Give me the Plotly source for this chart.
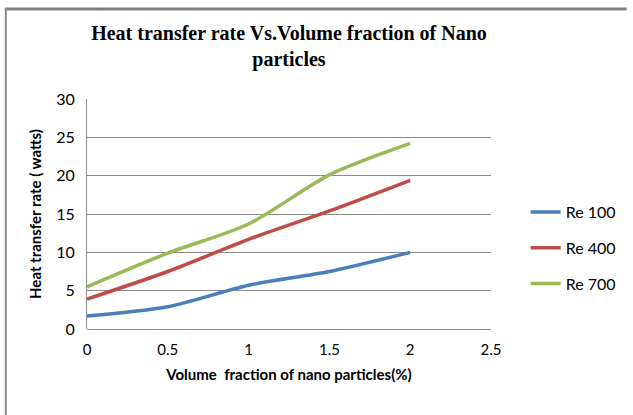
import plotly.graph_objects as go

x_vals = [0, 0.5, 1, 1.5, 2]
re100 = [1.7, 2.9, 5.7, 7.5, 10.0]
re400 = [3.9, 7.5, 11.7, 15.4, 19.4]
re700 = [5.5, 9.9, 13.7, 20.1, 24.2]
names = ["Re 100", "Re 400", "Re 700"]
colors = ["#4A7EBB", "#BE4B48", "#98B954"]

fig = go.Figure()
for i, (nm, ys) in enumerate(zip(names, [re100, re400, re700])):
    fig.add_trace(go.Scatter(x=x_vals, y=ys, mode="lines", name=nm,
                             line=dict(color=colors[i], width=3.5, shape="spline", smoothing=0.8),
                             legendgroup=nm))

L, R, T, B = 87, 138, 99, 86
W, H = 633, 415
pw, ph = W - L - R, H - T - B

def px(x):
    return (x - L) / pw

def py(y):
    return (H - B - y) / ph

fig.update_layout(
    width=W, height=H,
    margin=dict(l=L, r=R, t=T, b=B),
    paper_bgcolor="white", plot_bgcolor="white",
    title=dict(text="<b>Heat transfer rate Vs.Volume fraction of Nano<br>particles</b>",
               font=dict(family="Liberation Serif", size=20, color="black"),
               x=0.5, xanchor="center", xref="paper", y=1 - 40 / H, yanchor="top"),
    xaxis=dict(range=[0, 2.5], tickvals=[0, 0.5, 1, 1.5, 2, 2.5],
               ticktext=["0", "0.5", "1", "1.5", "2", "2.5"],
               showgrid=False, zeroline=False, showline=False, ticks="",
               tickfont=dict(family="Lato", size=15, color="black"), ticklabelstandoff=10,
               title=dict(text="<b>Volume  fraction of nano particles(%)</b>",
                          font=dict(family="Lato", size=15, color="black"), standoff=12)),
    yaxis=dict(range=[0, 30], tickvals=[0, 5, 10, 15, 20, 25, 30],
               showgrid=True, gridcolor="#8c8c8c", gridwidth=1,
               zeroline=True, zerolinecolor="#8c8c8c", zerolinewidth=1,
               showline=True, linecolor="#8c8c8c", linewidth=1, ticks="",
               tickfont=dict(family="Lato", size=16, color="black"), ticklabelstandoff=8,
               title=dict(text="<b>Heat transfer rate ( watts)</b>",
                          font=dict(family="Lato", size=15, color="black"), standoff=10)),
    legend=dict(x=px(530), y=py(248), xanchor="left", yanchor="middle",
                font=dict(family="Lato", size=16, color="black"),
                tracegroupgap=12, bgcolor="rgba(0,0,0,0)"),
    showlegend=True,
)

for a, b in [(4, 200), (200, 400), (400, 632)]:
    fig.add_shape(type="line", xref="paper", yref="paper", x0=px(a), x1=px(b), y0=py(9), y1=py(9),
                  line=dict(width=3, color="#808080"))
fig.add_shape(type="line", xref="paper", yref="paper", x0=px(5), x1=px(5), y0=py(9), y1=py(415),
              line=dict(color="#8c8c8c", width=2))

fig.write_html("out.html", config={"displayModeBar": False})
